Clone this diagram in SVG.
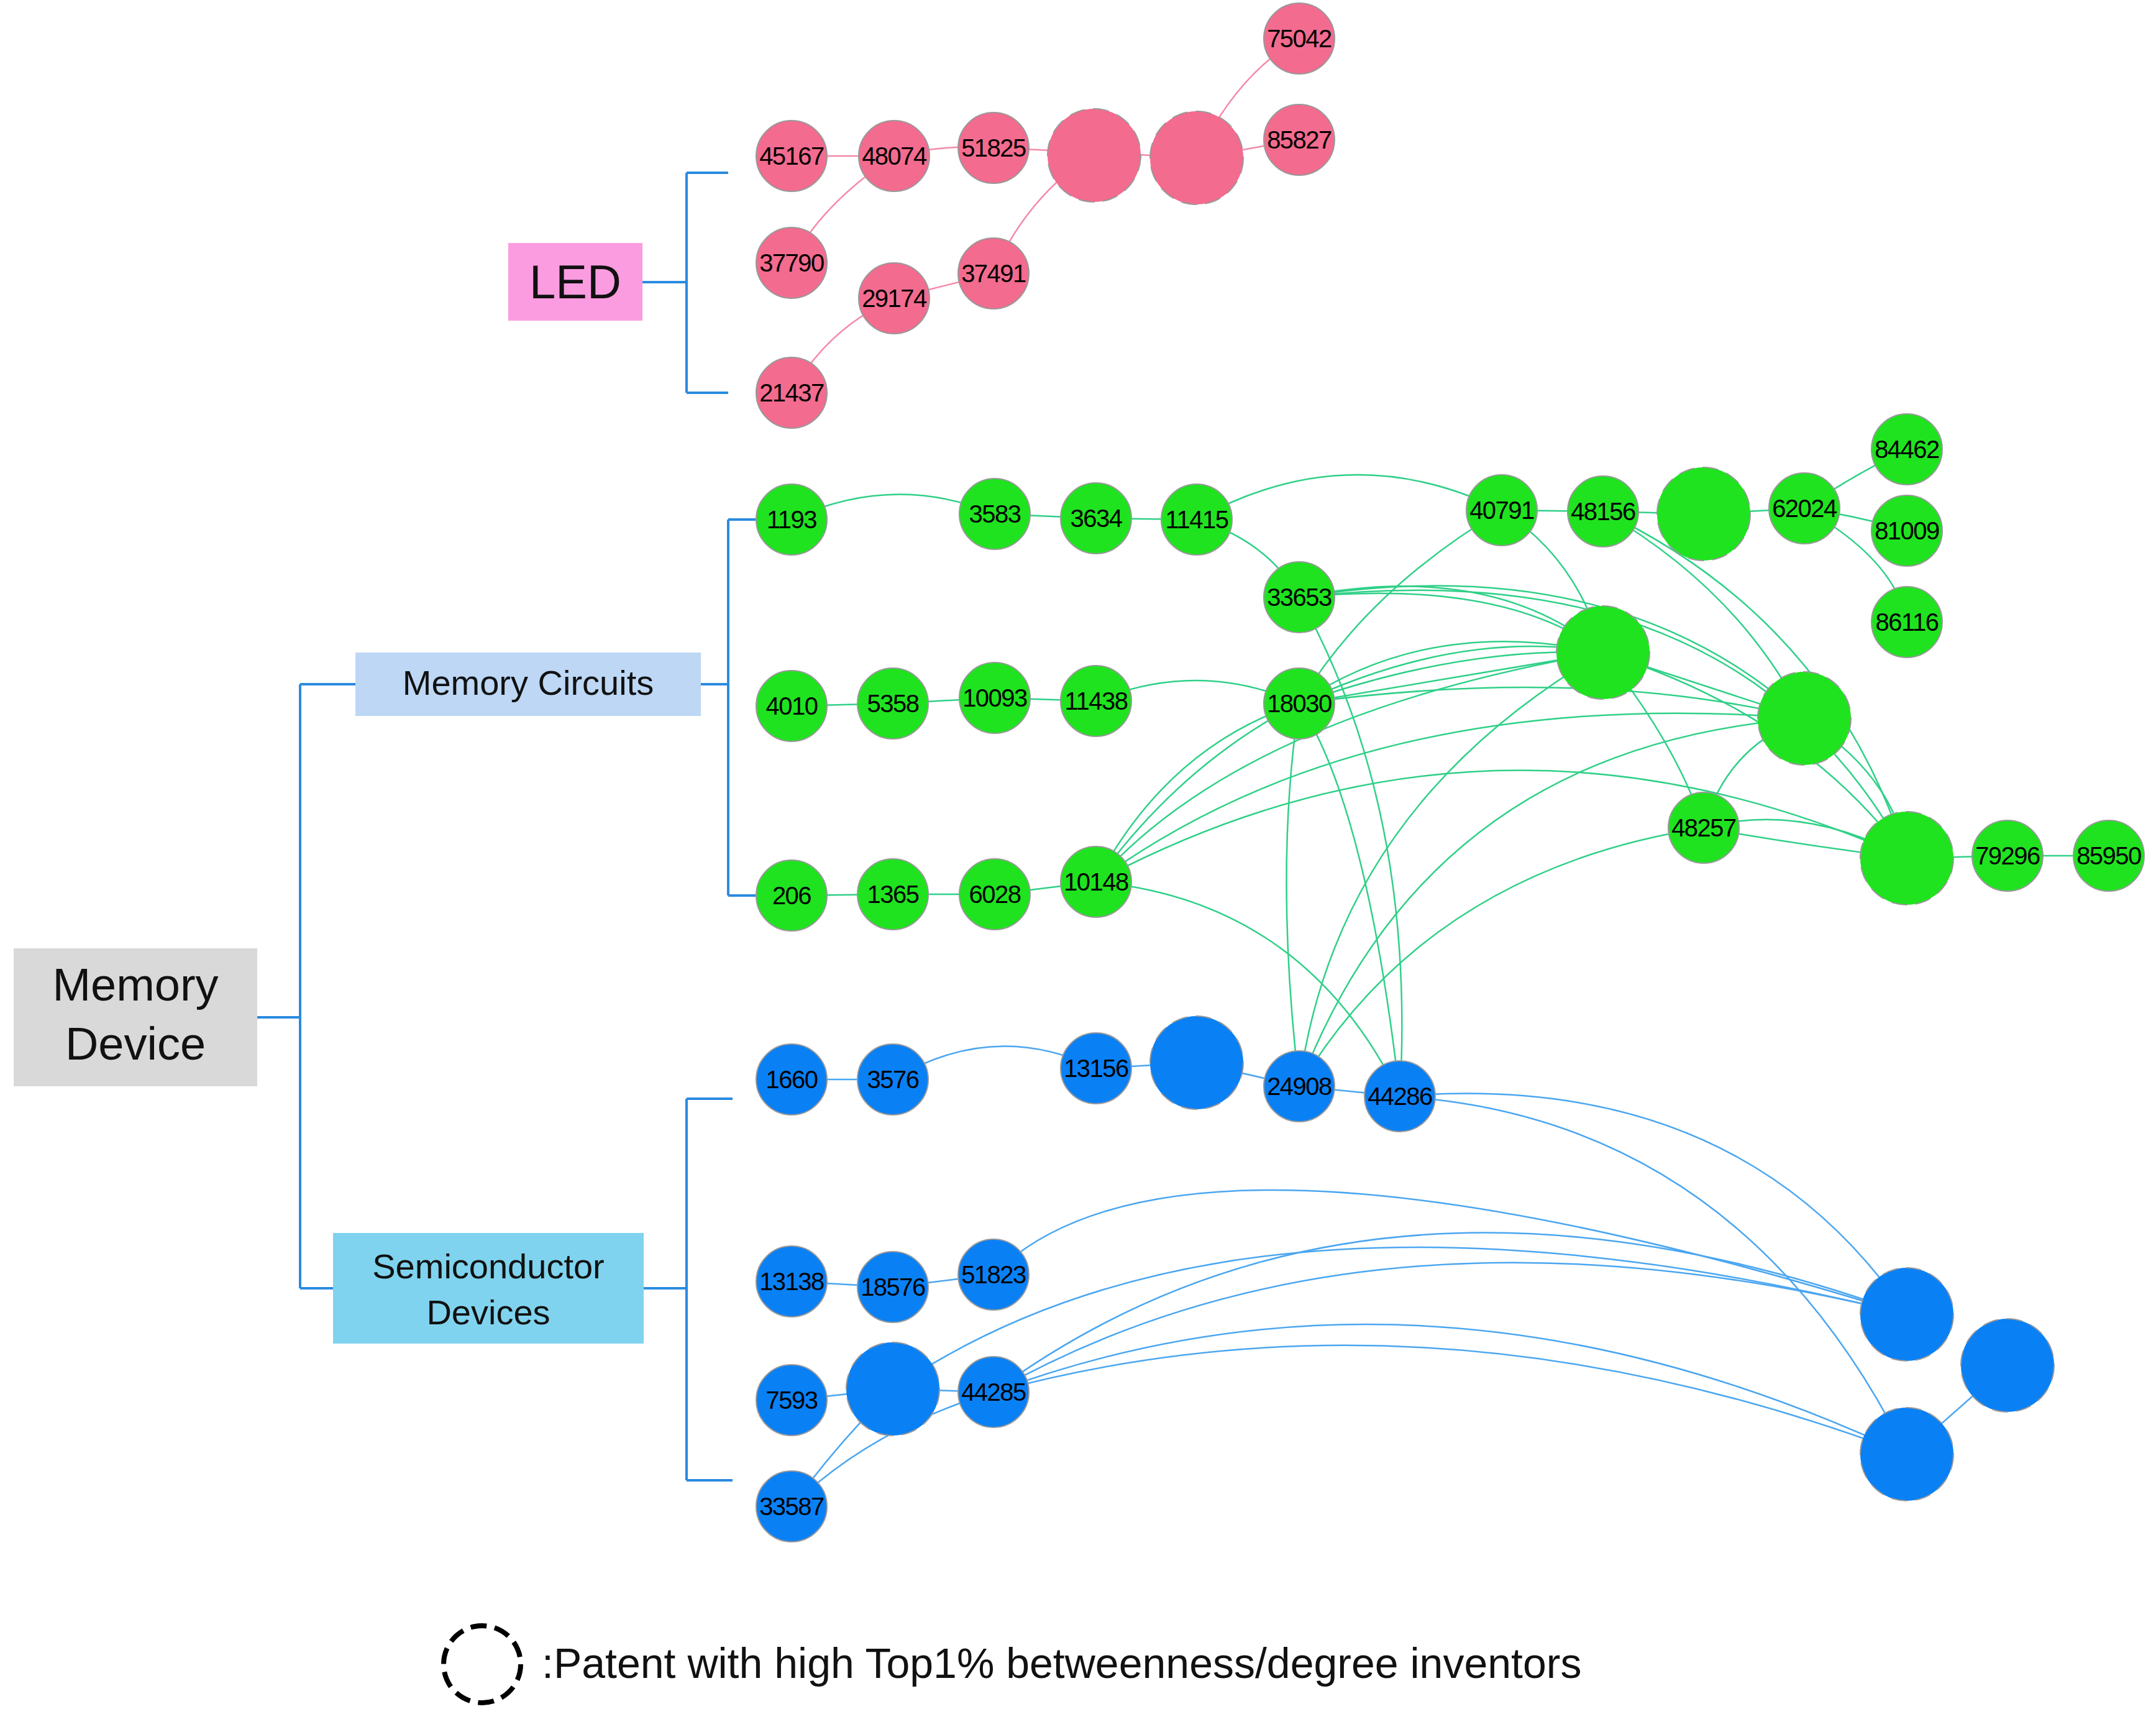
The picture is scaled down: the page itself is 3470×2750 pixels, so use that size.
<svg xmlns="http://www.w3.org/2000/svg" width="3470" height="2750" viewBox="0 0 3470 2750">
<style>
.n text{font-family:"Liberation Sans",Arial,sans-serif;font-size:40px;text-anchor:middle;fill:#000;letter-spacing:-1.5px}
.r circle{fill:#f36b8e;stroke:#999;stroke-width:2}
.g circle{fill:#1fe31f;stroke:#999;stroke-width:2}
.b circle{fill:#0a80f5;stroke:#999;stroke-width:2}
.hl{fill:none;stroke:#000;stroke-width:8;stroke-dasharray:26 13}
.br{fill:none;stroke:#2a8be0;stroke-width:4}
.lbl{font-family:"Liberation Sans",Arial,sans-serif;fill:#111;text-anchor:middle}
#edges path{fill:none}
.ep{stroke:#f48aa8;stroke-width:2.5}
.eg{stroke:#2fd088;stroke-width:2.5}
.eb{stroke:#4aa6f0;stroke-width:2.5}
</style>
<rect width="3470" height="2750" fill="#fff"/>
<g id="boxes">
<g id="memory-device"><rect x="22" y="1526" width="392" height="222" fill="#d9d9d9"/><text class="lbl" x="218" y="1610" font-size="74">Memory</text><text class="lbl" x="218" y="1705" font-size="74">Device</text></g>
<g id="led"><rect x="818" y="391" width="216" height="125" fill="#fc9ce0"/><text class="lbl" x="926" y="480" font-size="76">LED</text></g>
<g id="memory-circuits"><rect x="572" y="1050" width="556" height="102" fill="#bdd7f5"/><text class="lbl" x="850" y="1118" font-size="56">Memory Circuits</text></g>
<g id="semiconductor-devices"><rect x="536" y="1984" width="500" height="178" fill="#7fd3ee"/><text class="lbl" x="786" y="2057" font-size="56">Semiconductor</text><text class="lbl" x="786" y="2131" font-size="56">Devices</text></g>
</g>
<g id="brackets">
<path class="br" d="M414,1637 H483 M483,1101 V2073 M483,1101 H572 M483,2073 H536"/>
<path class="br" d="M1034,454 H1105 M1105,278 V632 M1105,278 H1172 M1105,632 H1172"/>
<path class="br" d="M1128,1101 H1172 M1172,836 V1441 M1172,836 H1216 M1172,1441 H1216"/>
<path class="br" d="M1036,2073 H1105 M1105,1768 V2382 M1105,1768 H1179 M1105,2382 H1179"/>
</g>
<g id="edges">
<g class="ep">
<path d="M1274,251 L1439,251"/><path d="M1439,251 Q1520,232 1599,238"/><path d="M1599,238 L1761,245"/><path d="M1761,245 L1926,254"/><path d="M1926,254 L2091,225"/><path d="M1926,254 Q1990,120 2091,62"/><path d="M1439,251 Q1320,330 1274,423"/><path d="M1439,480 L1599,440"/><path d="M1599,440 Q1650,320 1761,245"/><path d="M1439,480 Q1330,530 1274,632"/>
</g>
<g class="eg">
<path d="M1274,836 Q1437,760 1601,827"/><path d="M1601,827 L1764,834"/><path d="M1764,834 L1926,836"/><path d="M1926,836 Q2170,700 2417,821"/><path d="M1926,836 Q2040,870 2091,961"/>
<path d="M2417,821 L2580,823"/><path d="M2580,823 L2742,827"/><path d="M2742,827 L2904,818"/><path d="M2904,818 Q2990,760 3069,723"/><path d="M2904,818 Q2990,830 3069,854"/><path d="M2904,818 Q3050,900 3069,1001"/>
<path d="M1274,1136 L1437,1132"/><path d="M1437,1132 L1601,1123"/><path d="M1601,1123 L1764,1128"/><path d="M1764,1128 Q1930,1060 2091,1132"/>
<path d="M1274,1441 L1437,1439"/><path d="M1437,1439 L1601,1439"/><path d="M1601,1439 L1764,1419"/>
<path d="M1764,1419 Q1880,1200 2091,1132"/><path d="M1764,1419 Q1900,1230 2091,1132"/><path d="M1764,1419 Q2000,1150 2580,1050"/><path d="M1764,1419 Q2200,1100 2904,1156"/><path d="M1764,1419 Q2400,1080 3069,1381"/><path d="M1764,1419 Q2100,1450 2253,1764"/>
<path d="M2091,961 Q2400,900 2580,1050"/><path d="M2091,961 Q2420,930 2580,1050"/><path d="M2091,961 Q2600,880 2904,1156"/><path d="M2091,961 Q2800,880 3069,1381"/><path d="M2091,961 Q2280,1300 2253,1764"/>
<path d="M2091,1132 Q2300,990 2580,1050"/><path d="M2091,1132 Q2350,1010 2580,1050"/><path d="M2091,1132 Q2350,1040 2580,1050"/><path d="M2091,1132 Q2400,1080 2580,1050"/><path d="M2091,1132 Q2550,1070 2904,1156"/><path d="M2091,1132 Q2200,950 2417,821"/><path d="M2091,1132 Q2200,1300 2253,1764"/>
<path d="M2417,821 Q2540,900 2580,1050"/><path d="M2580,823 Q2800,950 2904,1156"/><path d="M2580,823 Q2950,1000 3069,1381"/><path d="M2580,1050 L2904,1156"/><path d="M2580,1050 Q2900,1150 3069,1381"/><path d="M2580,1050 Q2700,1200 2742,1332"/><path d="M2904,1156 Q2780,1200 2742,1332"/><path d="M2904,1156 Q3050,1250 3069,1381"/><path d="M2742,1332 Q2900,1290 3069,1381"/><path d="M2742,1332 Q2900,1360 3069,1381"/><path d="M3069,1381 L3231,1377"/><path d="M3231,1377 L3394,1377"/>
<path d="M2091,1748 Q2150,1300 2580,1050"/><path d="M2091,1748 Q2300,1200 2904,1156"/><path d="M2091,1748 Q2300,1400 2742,1332"/><path d="M2091,1748 Q2050,1400 2091,1132"/>
</g>
<g class="eb">
<path d="M1274,1737 L1437,1737"/><path d="M1437,1737 Q1600,1640 1764,1719"/><path d="M1764,1719 L1926,1710"/><path d="M1926,1710 L2091,1748"/><path d="M2091,1748 L2253,1764"/>
<path d="M2253,1764 Q2800,1720 3069,2115"/><path d="M2253,1764 Q2800,1800 3069,2340"/>
<path d="M1274,2062 L1437,2071"/><path d="M1437,2071 L1599,2051"/><path d="M1599,2051 Q1900,1750 3069,2115"/>
<path d="M1274,2253 L1437,2235"/><path d="M1437,2235 L1599,2240"/><path d="M1437,2235 Q2000,1850 3069,2115"/><path d="M1599,2240 Q2200,1800 3069,2115"/><path d="M1599,2240 Q2200,1900 3069,2115"/><path d="M1599,2240 Q2300,1980 3069,2340"/><path d="M1599,2240 Q2300,2050 3069,2340"/>
<path d="M1274,2424 Q1350,2320 1437,2235"/><path d="M1274,2424 Q1400,2300 1599,2240"/><path d="M3231,2197 L3069,2340"/>
</g>
</g>
<g id="nodes" class="n">
<g class="r">
<g id="n45167"><circle cx="1274" cy="251" r="57"/><text x="1274" y="265">45167</text></g>
<g id="n48074"><circle cx="1439" cy="251" r="57"/><text x="1439" y="265">48074</text></g>
<g id="n51825"><circle cx="1599" cy="238" r="57"/><text x="1599" y="252">51825</text></g>
<g id="n56822"><circle cx="1761" cy="245" r="57"/><text x="1761" y="259">56822</text><circle class="hl" cx="1761" cy="250" r="75"/></g>
<g id="n61949"><circle cx="1926" cy="254" r="57"/><text x="1926" y="268">61949</text><circle class="hl" cx="1926" cy="254" r="75"/></g>
<g id="n75042"><circle cx="2091" cy="62" r="57"/><text x="2091" y="76">75042</text></g>
<g id="n85827"><circle cx="2091" cy="225" r="57"/><text x="2091" y="239">85827</text></g>
<g id="n37790"><circle cx="1274" cy="423" r="57"/><text x="1274" y="437">37790</text></g>
<g id="n29174"><circle cx="1439" cy="480" r="57"/><text x="1439" y="494">29174</text></g>
<g id="n37491"><circle cx="1599" cy="440" r="57"/><text x="1599" y="454">37491</text></g>
<g id="n21437"><circle cx="1274" cy="632" r="57"/><text x="1274" y="646">21437</text></g>
</g>
<g class="g">
<g id="n1193"><circle cx="1274" cy="836" r="57"/><text x="1274" y="850">1193</text></g>
<g id="n3583"><circle cx="1601" cy="827" r="57"/><text x="1601" y="841">3583</text></g>
<g id="n3634"><circle cx="1764" cy="834" r="57"/><text x="1764" y="848">3634</text></g>
<g id="n11415"><circle cx="1926" cy="836" r="57"/><text x="1926" y="850">11415</text></g>
<g id="n40791"><circle cx="2417" cy="821" r="57"/><text x="2417" y="835">40791</text></g>
<g id="n48156"><circle cx="2580" cy="823" r="57"/><text x="2580" y="837">48156</text></g>
<g id="n56888"><circle cx="2742" cy="827" r="57"/><text x="2742" y="841">56888</text><circle class="hl" cx="2742" cy="827" r="75"/></g>
<g id="n62024"><circle cx="2904" cy="818" r="57"/><text x="2904" y="832">62024</text></g>
<g id="n84462"><circle cx="3069" cy="723" r="57"/><text x="3069" y="737">84462</text></g>
<g id="n81009"><circle cx="3069" cy="854" r="57"/><text x="3069" y="868">81009</text></g>
<g id="n86116"><circle cx="3069" cy="1001" r="57"/><text x="3069" y="1015">86116</text></g>
<g id="n33653"><circle cx="2091" cy="961" r="57"/><text x="2091" y="975">33653</text></g>
<g id="n44395"><circle cx="2580" cy="1050" r="57"/><text x="2580" y="1064">44395</text><circle class="hl" cx="2580" cy="1050" r="75"/></g>
<g id="n4010"><circle cx="1274" cy="1136" r="57"/><text x="1274" y="1150">4010</text></g>
<g id="n5358"><circle cx="1437" cy="1132" r="57"/><text x="1437" y="1146">5358</text></g>
<g id="n10093"><circle cx="1601" cy="1123" r="57"/><text x="1601" y="1137">10093</text></g>
<g id="n11438"><circle cx="1764" cy="1128" r="57"/><text x="1764" y="1142">11438</text></g>
<g id="n18030"><circle cx="2091" cy="1132" r="57"/><text x="2091" y="1146">18030</text></g>
<g id="n62031"><circle cx="2904" cy="1156" r="57"/><text x="2904" y="1170">62031</text><circle class="hl" cx="2904" cy="1156" r="75"/></g>
<g id="n48257"><circle cx="2742" cy="1332" r="57"/><text x="2742" y="1346">48257</text></g>
<g id="n68662"><circle cx="3069" cy="1381" r="57"/><text x="3069" y="1395">68662</text><circle class="hl" cx="3069" cy="1381" r="75"/></g>
<g id="n79296"><circle cx="3231" cy="1377" r="57"/><text x="3231" y="1391">79296</text></g>
<g id="n85950"><circle cx="3394" cy="1377" r="57"/><text x="3394" y="1391">85950</text></g>
<g id="n206"><circle cx="1274" cy="1441" r="57"/><text x="1274" y="1455">206</text></g>
<g id="n1365"><circle cx="1437" cy="1439" r="57"/><text x="1437" y="1453">1365</text></g>
<g id="n6028"><circle cx="1601" cy="1439" r="57"/><text x="1601" y="1453">6028</text></g>
<g id="n10148"><circle cx="1764" cy="1419" r="57"/><text x="1764" y="1433">10148</text></g>
</g>
<g class="b">
<g id="n1660"><circle cx="1274" cy="1737" r="57"/><text x="1274" y="1751">1660</text></g>
<g id="n3576"><circle cx="1437" cy="1737" r="57"/><text x="1437" y="1751">3576</text></g>
<g id="n13156"><circle cx="1764" cy="1719" r="57"/><text x="1764" y="1733">13156</text></g>
<g id="n18234"><circle cx="1926" cy="1710" r="57"/><text x="1926" y="1724">18234</text><circle class="hl" cx="1926" cy="1710" r="75"/></g>
<g id="n24908"><circle cx="2091" cy="1748" r="57"/><text x="2091" y="1762">24908</text></g>
<g id="n44286"><circle cx="2253" cy="1764" r="57"/><text x="2253" y="1778">44286</text></g>
<g id="n13138"><circle cx="1274" cy="2062" r="57"/><text x="1274" y="2076">13138</text></g>
<g id="n18576"><circle cx="1437" cy="2071" r="57"/><text x="1437" y="2085">18576</text></g>
<g id="n51823"><circle cx="1599" cy="2051" r="57"/><text x="1599" y="2065">51823</text></g>
<g id="n7593"><circle cx="1274" cy="2253" r="57"/><text x="1274" y="2267">7593</text></g>
<g id="n29083"><circle cx="1437" cy="2235" r="57"/><text x="1437" y="2249">29083</text><circle class="hl" cx="1437" cy="2235" r="75"/></g>
<g id="n44285"><circle cx="1599" cy="2240" r="57"/><text x="1599" y="2254">44285</text></g>
<g id="n33587"><circle cx="1274" cy="2424" r="57"/><text x="1274" y="2438">33587</text></g>
<g id="n79000"><circle cx="3069" cy="2115" r="57"/><text x="3069" y="2129">79000</text><circle class="hl" cx="3069" cy="2115" r="75"/></g>
<g id="n83243"><circle cx="3231" cy="2197" r="57"/><text x="3231" y="2211">83243</text><circle class="hl" cx="3231" cy="2197" r="75"/></g>
<g id="n74214"><circle cx="3069" cy="2340" r="57"/><text x="3069" y="2354">74214</text><circle class="hl" cx="3069" cy="2340" r="75"/></g>
</g>
</g>
<g id="legend">
<circle class="hl" cx="776" cy="2678" r="62"/>
<text x="872" y="2700" font-family="Liberation Sans, Arial, sans-serif" font-size="68" fill="#111">:Patent with high Top1% betweenness/degree inventors</text>
</g>
</svg>
